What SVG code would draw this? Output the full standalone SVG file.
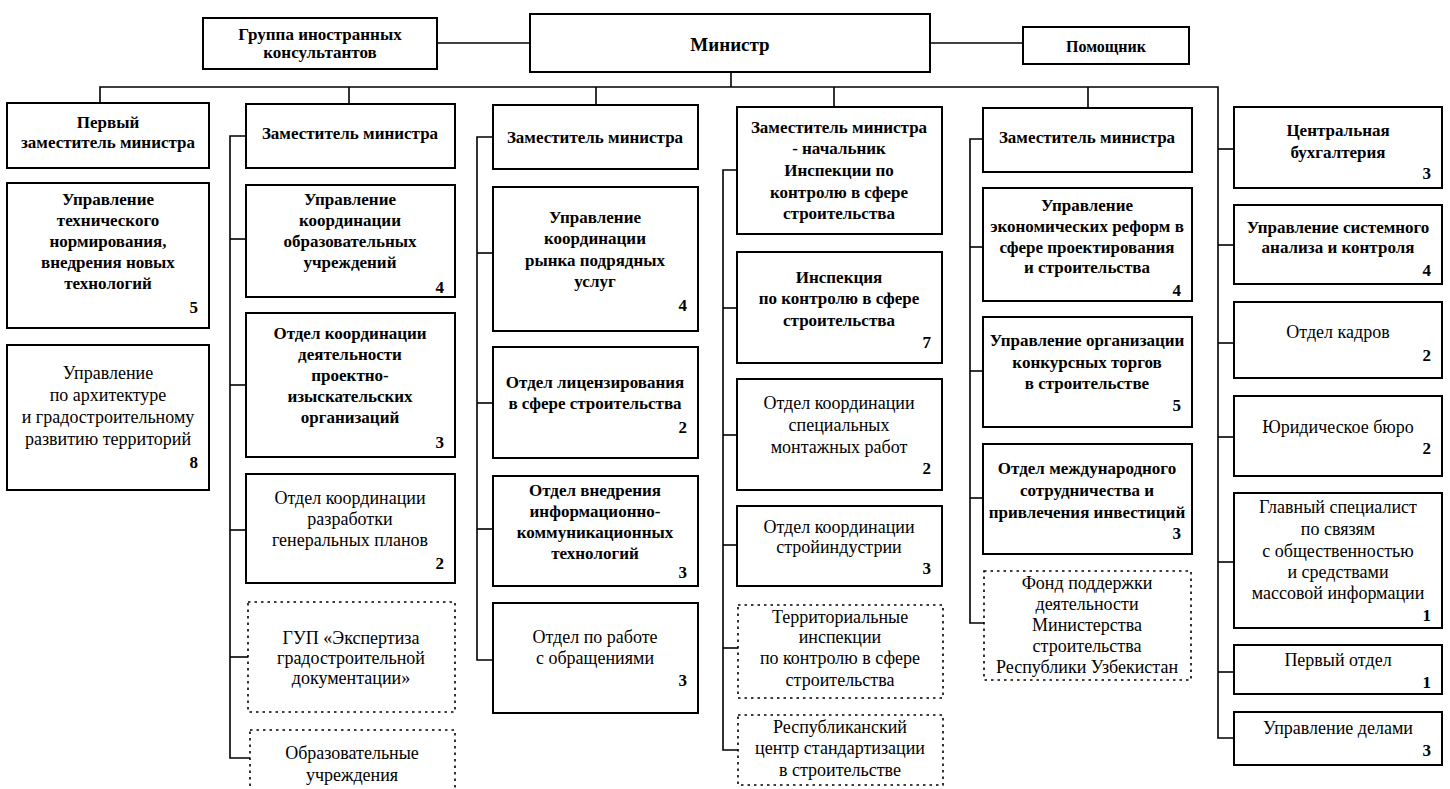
<svg xmlns="http://www.w3.org/2000/svg" width="1450" height="789" viewBox="0 0 1450 789">
<style>
.b{fill:#fff;stroke:#000;stroke-width:2}
.d{fill:#fff;stroke:#000;stroke-width:1.6;stroke-dasharray:2.5 4}
.c{fill:none;stroke:#000;stroke-width:1.6}
text{font-family:"Liberation Serif","Times New Roman",serif;font-size:18px;fill:#000;text-anchor:middle}
.h{font-weight:bold;font-size:17px}
.n{text-anchor:end;font-weight:bold;font-size:17px}
.m{font-size:19px;font-weight:bold}
</style>
<rect width="1450" height="789" fill="#fff"/>
<g id="connectors">
<line class="c" x1="437" y1="43" x2="530" y2="43"/>
<line class="c" x1="930" y1="43" x2="1023" y2="43"/>
<line class="c" x1="731" y1="72" x2="731" y2="87"/>
<polyline class="c" points="100,103 100,87 1218,87 1218,738 1234,738"/>
<line class="c" x1="349" y1="87" x2="349" y2="104"/>
<line class="c" x1="596" y1="87" x2="596" y2="105"/>
<line class="c" x1="834" y1="87" x2="834" y2="107"/>
<line class="c" x1="1088" y1="87" x2="1088" y2="108"/>
<polyline class="c" points="246,136 230,136 230,758 250,758"/>
<line class="c" x1="230" y1="239" x2="246" y2="239"/>
<line class="c" x1="230" y1="385" x2="246" y2="385"/>
<line class="c" x1="230" y1="530" x2="246" y2="530"/>
<line class="c" x1="230" y1="657" x2="248" y2="657"/>
<polyline class="c" points="493,137 477,137 477,660 493,660"/>
<line class="c" x1="477" y1="253" x2="493" y2="253"/>
<line class="c" x1="477" y1="403" x2="493" y2="403"/>
<line class="c" x1="477" y1="529" x2="493" y2="529"/>
<polyline class="c" points="737,170 723,170 723,750 738,750"/>
<line class="c" x1="723" y1="308" x2="737" y2="308"/>
<line class="c" x1="723" y1="435" x2="737" y2="435"/>
<line class="c" x1="723" y1="545" x2="737" y2="545"/>
<line class="c" x1="723" y1="648" x2="738" y2="648"/>
<polyline class="c" points="983,139 970,139 970,623 984,623"/>
<line class="c" x1="970" y1="247" x2="983" y2="247"/>
<line class="c" x1="970" y1="371" x2="983" y2="371"/>
<line class="c" x1="970" y1="498" x2="983" y2="498"/>
<line class="c" x1="1218" y1="149" x2="1234" y2="149"/>
<line class="c" x1="1218" y1="245" x2="1234" y2="245"/>
<line class="c" x1="1218" y1="343" x2="1234" y2="343"/>
<line class="c" x1="1218" y1="437" x2="1234" y2="437"/>
<line class="c" x1="1218" y1="562" x2="1234" y2="562"/>
<line class="c" x1="1218" y1="672" x2="1234" y2="672"/>
</g>
<g id="consultants"><rect class="b" x="203" y="18" width="234" height="51"/><text class="h" x="320" y="40">Группа иностранных</text><text class="h" x="320" y="58">консультантов</text></g>
<g id="minister"><rect class="b" x="530" y="14" width="400" height="58"/><text class="m" x="730" y="51">Министр</text></g>
<g id="assistant"><rect class="b" x="1023" y="27" width="166" height="37"/><text class="h" x="1106" y="52" style="font-size:16px">Помощник</text></g>

<g id="first-deputy"><rect class="b" x="7" y="103" width="202" height="65"/><text class="h" x="108" y="128">Первый</text><text class="h" x="108" y="148">заместитель министра</text></g>
<g id="tech-norm"><rect class="b" x="7" y="183" width="202" height="145"/><text class="h" x="108" y="205">Управление</text><text class="h" x="108" y="226">технического</text><text class="h" x="108" y="247">нормирования,</text><text class="h" x="108" y="268">внедрения новых</text><text class="h" x="108" y="289">технологий</text><text class="n" x="198" y="313">5</text></g>
<g id="architecture"><rect class="b" x="7" y="345" width="202" height="145"/><text x="108" y="379">Управление</text><text x="108" y="401">по архитектуре</text><text x="108" y="423">и градостроительному</text><text x="108" y="445">развитию территорий</text><text class="n" x="198" y="468">8</text></g>

<g id="deputy-2"><rect class="b" x="246" y="104" width="209" height="64"/><text class="h" x="350" y="139">Заместитель министра</text></g>
<g id="edu-coord"><rect class="b" x="246" y="185" width="209" height="112"/><text class="h" x="350" y="205">Управление</text><text class="h" x="350" y="226">координации</text><text class="h" x="350" y="247">образовательных</text><text class="h" x="350" y="268">учреждений</text><text class="n" x="444" y="293">4</text></g>
<g id="design-coord"><rect class="b" x="246" y="313" width="209" height="144"/><text class="h" x="350" y="339">Отдел координации</text><text class="h" x="350" y="360">деятельности</text><text class="h" x="350" y="381">проектно-</text><text class="h" x="350" y="402">изыскательских</text><text class="h" x="350" y="423">организаций</text><text class="n" x="444" y="448">3</text></g>
<g id="master-plans"><rect class="b" x="246" y="474" width="209" height="109"/><text x="350" y="504">Отдел координации</text><text x="350" y="525">разработки</text><text x="350" y="546">генеральных планов</text><text class="n" x="444" y="569">2</text></g>
<g id="gup"><rect class="d" x="248" y="602" width="207" height="110"/><text x="351" y="644">ГУП «Экспертиза</text><text x="351" y="664">градостроительной</text><text x="351" y="684">документации»</text></g>
<g id="edu-inst"><rect class="d" x="250" y="730" width="205" height="70"/><text x="352" y="759">Образовательные</text><text x="352" y="781">учреждения</text></g>

<g id="deputy-3"><rect class="b" x="493" y="105" width="205" height="64"/><text class="h" x="595" y="143">Заместитель министра</text></g>
<g id="contract-market"><rect class="b" x="493" y="187" width="205" height="144"/><text class="h" x="595" y="223">Управление</text><text class="h" x="595" y="244">координации</text><text class="h" x="595" y="266">рынка подрядных</text><text class="h" x="595" y="287">услуг</text><text class="n" x="687" y="311">4</text></g>
<g id="licensing"><rect class="b" x="493" y="347" width="205" height="111"/><text class="h" x="595" y="388">Отдел лицензирования</text><text class="h" x="595" y="409">в сфере строительства</text><text class="n" x="687" y="433">2</text></g>
<g id="ict"><rect class="b" x="493" y="476" width="205" height="110"/><text class="h" x="595" y="496">Отдел внедрения</text><text class="h" x="595" y="517">информационно-</text><text class="h" x="595" y="538">коммуникационных</text><text class="h" x="595" y="559">технологий</text><text class="n" x="687" y="578">3</text></g>
<g id="appeals"><rect class="b" x="493" y="603" width="205" height="110"/><text x="595" y="643">Отдел по работе</text><text x="595" y="664">с обращениями</text><text class="n" x="687" y="686">3</text></g>

<g id="deputy-4"><rect class="b" x="737" y="107" width="205" height="127"/><text class="h" x="839" y="133">Заместитель министра</text><text class="h" x="839" y="154">- начальник</text><text class="h" x="839" y="176">Инспекции по</text><text class="h" x="839" y="198">контролю в сфере</text><text class="h" x="839" y="219">строительства</text></g>
<g id="inspection"><rect class="b" x="737" y="252" width="205" height="111"/><text class="h" x="839" y="283">Инспекция</text><text class="h" x="839" y="304">по контролю в сфере</text><text class="h" x="839" y="326">строительства</text><text class="n" x="931" y="348">7</text></g>
<g id="special-works"><rect class="b" x="737" y="379" width="205" height="111"/><text x="839" y="409">Отдел координации</text><text x="839" y="431">специальных</text><text x="839" y="453">монтажных работ</text><text class="n" x="931" y="474">2</text></g>
<g id="construction-industry"><rect class="b" x="737" y="506" width="205" height="80"/><text x="839" y="533">Отдел координации</text><text x="839" y="553">стройиндустрии</text><text class="n" x="931" y="574">3</text></g>
<g id="territorial"><rect class="d" x="738" y="605" width="205" height="93"/><text x="840" y="623">Территориальные</text><text x="840" y="643">инспекции</text><text x="840" y="664">по контролю в сфере</text><text x="840" y="686">строительства</text></g>
<g id="standards"><rect class="d" x="738" y="715" width="205" height="70"/><text x="840" y="733">Республиканский</text><text x="840" y="754">центр стандартизации</text><text x="840" y="776">в строительстве</text></g>

<g id="deputy-5"><rect class="b" x="983" y="108" width="209" height="64"/><text class="h" x="1087" y="143">Заместитель министра</text></g>
<g id="econ-reforms"><rect class="b" x="983" y="188" width="209" height="113"/><text class="h" x="1087" y="211">Управление</text><text class="h" x="1087" y="232">экономических реформ в</text><text class="h" x="1087" y="253">сфере проектирования</text><text class="h" x="1087" y="273">и строительства</text><text class="n" x="1181" y="296">4</text></g>
<g id="tenders"><rect class="b" x="983" y="317" width="209" height="110"/><text class="h" x="1087" y="346">Управление организации</text><text class="h" x="1087" y="368">конкурсных торгов</text><text class="h" x="1087" y="389">в строительстве</text><text class="n" x="1181" y="411">5</text></g>
<g id="intl"><rect class="b" x="983" y="444" width="209" height="110"/><text class="h" x="1087" y="474">Отдел международного</text><text class="h" x="1087" y="496">сотрудничества и</text><text class="h" x="1087" y="518">привлечения инвестиций</text><text class="n" x="1181" y="539">3</text></g>
<g id="fund"><rect class="d" x="984" y="571" width="207" height="109"/><text x="1087" y="589">Фонд поддержки</text><text x="1087" y="610">деятельности</text><text x="1087" y="631">Министерства</text><text x="1087" y="652">строительства</text><text x="1087" y="673">Республики Узбекистан</text></g>

<g id="accounting"><rect class="b" x="1234" y="107" width="208" height="81"/><text class="h" x="1338" y="136">Центральная</text><text class="h" x="1338" y="158">бухгалтерия</text><text class="n" x="1431" y="179">3</text></g>
<g id="system-analysis"><rect class="b" x="1234" y="205" width="208" height="79"/><text class="h" x="1338" y="233">Управление системного</text><text class="h" x="1338" y="253">анализа и контроля</text><text class="n" x="1431" y="276">4</text></g>
<g id="hr"><rect class="b" x="1234" y="302" width="208" height="76"/><text x="1338" y="338">Отдел кадров</text><text class="n" x="1431" y="361">2</text></g>
<g id="legal"><rect class="b" x="1234" y="396" width="208" height="80"/><text x="1338" y="433">Юридическое бюро</text><text class="n" x="1431" y="454">2</text></g>
<g id="pr"><rect class="b" x="1234" y="493" width="208" height="135"/><text x="1338" y="513">Главный специалист</text><text x="1338" y="535">по связям</text><text x="1338" y="557">с общественностью</text><text x="1338" y="578">и средствами</text><text x="1338" y="599">массовой информации</text><text class="n" x="1431" y="621">1</text></g>
<g id="first-dept"><rect class="b" x="1234" y="645" width="208" height="49"/><text x="1338" y="666">Первый отдел</text><text class="n" x="1431" y="688">1</text></g>
<g id="affairs"><rect class="b" x="1234" y="712" width="208" height="53"/><text x="1338" y="734">Управление делами</text><text class="n" x="1431" y="756">3</text></g>
</svg>
